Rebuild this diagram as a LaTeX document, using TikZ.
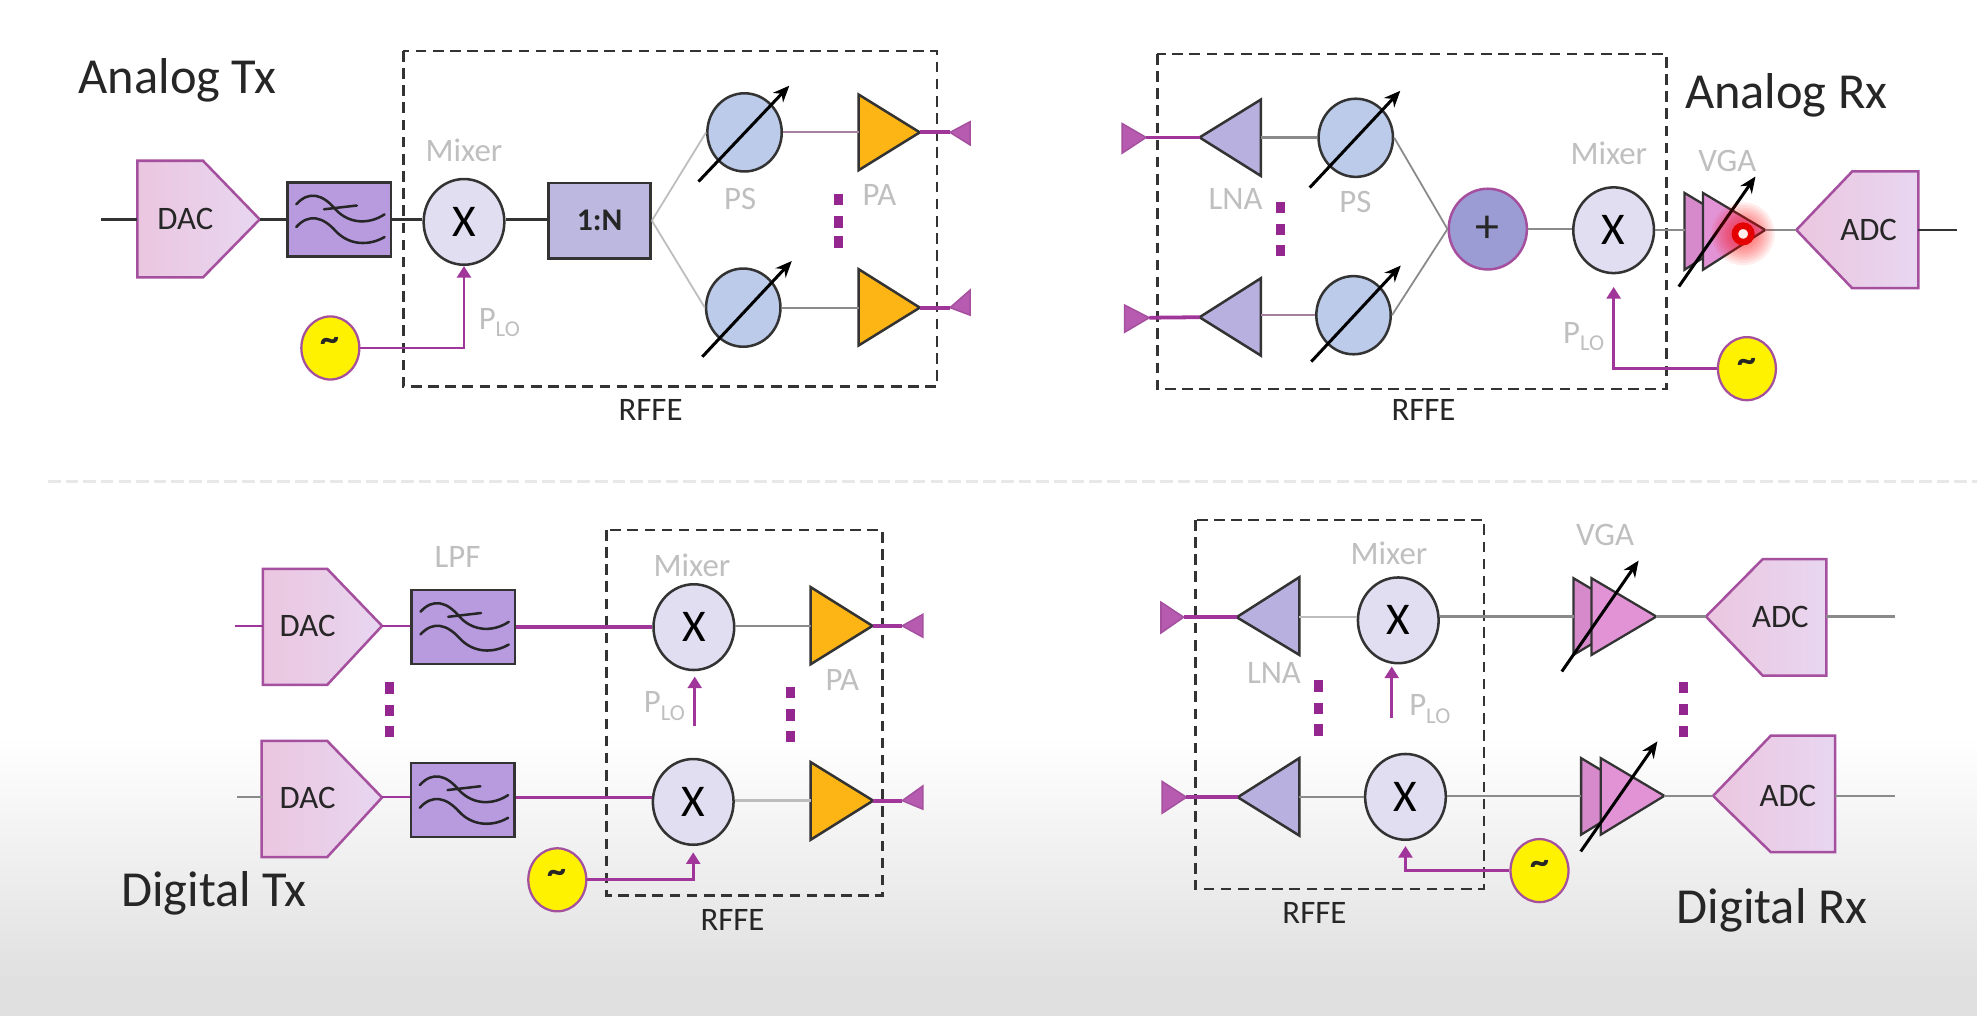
\documentclass[tikz,border=0pt]{standalone}
\usepackage{fontspec}
\setmainfont{Carlito}
\usetikzlibrary{shapes.geometric,arrows.meta}
\definecolor{pline}{HTML}{A0359A}
\definecolor{dline}{HTML}{333333}
\definecolor{gline}{HTML}{8A8A8A}
\definecolor{lline}{HTML}{BDBDBD}
\definecolor{rline}{HTML}{A57FA0}
\definecolor{lab}{HTML}{BFBFBF}
\definecolor{txt}{HTML}{262626}
\definecolor{edge}{HTML}{A5509F}
\definecolor{dacL}{HTML}{EBC6E0}
\definecolor{dacR}{HTML}{E8D6F0}
\definecolor{lpfF}{HTML}{B89ADF}
\definecolor{mixF}{HTML}{E0DEF0}
\definecolor{psF}{HTML}{BCCBEA}
\definecolor{lnaF}{HTML}{B8B0DF}
\definecolor{paF}{HTML}{FDB515}
\definecolor{vgaF}{HTML}{E293D6}
\definecolor{vgaB}{HTML}{D68ACB}
\definecolor{antF}{HTML}{B75BB0}
\definecolor{dotF}{HTML}{93278F}
\definecolor{addF}{HTML}{9C9CD4}
\definecolor{splitF}{HTML}{BDB8E0}
\tikzset{
  x=0.5pt,y=-0.5pt,
  title/.style={font=\fontsize{20}{21}\selectfont,text=txt,inner sep=0pt},
  glabel/.style={font=\fontsize{13}{14}\selectfont,text=lab,inner sep=0pt},
  blabel/.style={font=\fontsize{13}{14}\selectfont,text=txt,inner sep=0pt},
  mixnode/.style={ellipse,draw=dline,line width=1pt,fill=mixF,minimum width=32pt,minimum height=34pt,inner sep=0pt,font=\fontsize{18}{19}\selectfont,text=black},
  psnode/.style={ellipse,draw=dline,line width=1pt,fill=psF,minimum width=29.5pt,minimum height=31pt,inner sep=0pt},
  addnode/.style={ellipse,draw=edge,line width=1pt,fill=addF,minimum width=31pt,minimum height=32pt,inner sep=0pt,font=\fontsize{19}{20}\selectfont,text=txt},
  oscnode/.style={ellipse,draw=edge,line width=0.9pt,fill=yellow,minimum width=23pt,minimum height=25pt,inner sep=0pt,font=\fontsize{15}{16}\selectfont\bfseries,text=txt},
  lpfnode/.style={rectangle,draw=dline,line width=1pt,fill=lpfF,minimum width=41pt,minimum height=29.3pt,inner sep=0pt},
  splitnode/.style={rectangle,draw=dline,line width=1pt,fill=splitF,minimum width=40.5pt,minimum height=30pt,inner sep=0pt,font=\fontsize{12.5}{13}\selectfont\bfseries,text=txt},
  rfbox/.style={draw=dline,line width=0.95pt,dash pattern=on 4.2pt off 2.6pt},
  wdark/.style={draw=dline,line width=1pt},
  wpurp/.style={draw=pline,line width=1.5pt},
  wthin/.style={draw=pline,line width=0.8pt},
  wgray/.style={draw=gline,line width=0.9pt},
  wlight/.style={draw=lline,line width=0.7pt},
  wrose/.style={draw=rline,line width=0.8pt},
  lowire/.style={draw=pline,line width=1.1pt,-{Triangle[length=4.6pt,width=5.5pt]}},
  tune/.style={draw=black,line width=1.2pt,-{Stealth[length=6.5pt,width=5.5pt]}},
  pafill/.style={draw=dline,line width=1pt,fill=paF,line join=miter},
  lnafill/.style={draw=dline,line width=1pt,fill=lnaF},
  vgafill/.style={draw=dline,line width=0.9pt,fill=vgaF},
  vgaback/.style={draw=dline,line width=0.9pt,fill=vgaB},
  antfill/.style={draw=edge,line width=0.6pt,fill=antF},
  dotfill/.style={rectangle,fill=dotF,minimum width=3.5pt,minimum height=4.5pt,inner sep=0pt},
  lpfwave/.style={draw=black!85,line width=1pt,line cap=round},
}
% triangle: name, base x, tip x, top y, bottom y, mid y, style
\newcommand{\trishape}[7]{%
  \path[#7] (#2,#4) -- (#3,#6) -- (#2,#5) -- cycle;
  \coordinate (#1base) at (#2,#6);
  \coordinate (#1tip) at (#3,#6);}
% converter: name, flat x, corner x, tip x, top y, bottom y, mid y, text, text x
\newcommand{\conv}[9]{%
  \path[draw=edge,line width=1pt,left color=dacL,right color=dacR] (#2,#5) -- (#3,#5) -- (#4,#7) -- (#3,#6) -- (#2,#6) -- cycle;
  \coordinate (#1flat) at (#2,#7);
  \coordinate (#1tip) at (#4,#7);
  \node[blabel] (#1) at (#9,#7) {#8};}
% low-pass filter box: name, x, y
\newcommand{\lpfbox}[3]{%
  \node[lpfnode] (#1) at (#2,#3) {};
  \begin{scope}[shift={(#2,#3)}]
    \path[lpfwave] (-34,-12) .. controls (-24,-23) and (-13,-20) .. (-3,-8) .. controls (8,4) and (24,4) .. (36,-4);
    \path[lpfwave] (-34,6) .. controls (-24,-5) and (-13,-2) .. (-3,9) .. controls (8,21) and (24,21) .. (36,14);
    \path[lpfwave] (-12,-8) -- (14,-11);
  \end{scope}}
% three dots: name, x, y1, y2, y3
\newcommand{\vdotsq}[5]{%
  \node[dotfill] (#1a) at (#2,#3) {};
  \node[dotfill] (#1b) at (#2,#4) {};
  \node[dotfill] (#1c) at (#2,#5) {};}
\newcommand{\plo}{P\raisebox{-3pt}{\fontsize{9}{9}\selectfont LO}}
\newcommand{\osc}{\raisebox{2.5pt}{\textasciitilde}}
\begin{document}
\begin{tikzpicture}
\useasboundingbox (0,0) rectangle (1568,805.8);
% background
\fill[white] (0,0) rectangle (1568,805.8);
\shade[top color=white,bottom color=black!12] (0,585) rectangle (1568,775);
\fill[black!12] (0,775) rectangle (1568,805.8);
\coordinate (sepL) at (38,382);
\coordinate (sepR) at (1568,382);
\draw[black!9,line width=1pt,dash pattern=on 5pt off 2pt] (sepL) -- (sepR);

%% ---------- Analog Tx ----------
\node[title,anchor=west] (tATx) at (62,63.5) {Analog Tx};
\draw[rfbox] (320,40.5) rectangle (743,306.6);
\node[blabel] (rfATx) at (516,325) {RFFE};
\coordinate (iATx) at (80,174);
\conv{dacA}{109}{161}{206}{127.5}{220}{174}{DAC}{147}
\lpfbox{lpfA}{269}{174}
\node[mixnode] (mixA) at (368,176) {X};
\node[splitnode] (splitA) at (475.5,175) {1:N};
\node[psnode] (psA1) at (590.5,105) {};
\node[psnode] (psA2) at (589.5,244) {};
\trishape{paA1}{681}{729.5}{75}{135}{105}{pafill}
\trishape{paA2}{681}{729.5}{213.5}{274}{244}{pafill}
\trishape{antA1}{769.5}{753.5}{96.5}{115}{105}{antfill}
\trishape{antA2}{769.5}{753.5}{230}{250}{244}{antfill}
\node[oscnode] (oscA) at (262,276) {\osc};
\draw[wdark] (iATx) -- (dacAflat);
\draw[wdark] (dacAtip) -- (lpfA.west);
\draw[wdark] (lpfA.east) -- (mixA.west |- lpfA.east);
\draw[wdark,line width=1.4pt] (mixA.east |- lpfA.east) -- (splitA.west |- lpfA.east);
\draw[wlight] (splitA.east) -- (psA1.west);
\draw[wlight] (splitA.east) -- (psA2.west);
\draw[wrose] (psA1.east) -- (paA1base);
\draw[wgray] (psA2.east) -- (paA2base);
\draw[wpurp] (paA1tip) -- (antA1tip);
\draw[wpurp] (paA2tip) -- (antA2tip);
\draw[lowire] (oscA.east) -| (mixA.south);
\coordinate (tA1s) at (554,144); \coordinate (tA1e) at (626,68);
\coordinate (tA2s) at (557,283); \coordinate (tA2e) at (628,207);
\draw[tune] (tA1s) -- (tA1e);
\draw[tune] (tA2s) -- (tA2e);
\vdotsq{dA}{665}{158}{176}{192}
\node[glabel] (mA) at (368,119.5) {Mixer};
\node[glabel] (psAl) at (587,158) {PS};
\node[glabel] (paAl) at (697.5,155) {PA};
\node[glabel] (ploA) at (396,256) {\plo};

%% ---------- Analog Rx ----------
\node[title,anchor=west] (tARx) at (1336,76) {Analog Rx};
\draw[rfbox] (918,42.8) rectangle (1321.8,308.7);
\node[blabel] (rfARx) at (1129,325) {RFFE};
\trishape{antB1}{890}{909}{98}{121.5}{109}{antfill}
\trishape{antB2}{892}{911.5}{242}{263.5}{252}{antfill}
\trishape{lnaB1}{1000}{951.4}{79}{139.5}{109}{lnafill}
\trishape{lnaB2}{1000}{951.4}{220.7}{282}{251.6}{lnafill}
\node[psnode] (psB1) at (1075.3,109.3) {};
\node[psnode] (psB2) at (1073.5,250) {};
\node[addnode] (addB) at (1180,181.7) {+};
\node[mixnode] (mixB) at (1279.8,182.6) {X};
\trishape{vgaB0}{1336}{1385}{153}{214}{182.4}{vgaback}
\trishape{vgaB1}{1350.6}{1400}{153}{214}{182.4}{vgafill}
\conv{adcB}{1521.4}{1469}{1424.7}{136}{228.6}{182.4}{ADC}{1482}
\node[oscnode] (oscB) at (1385.5,292.4) {\osc};
\coordinate (oB) at (1552,182.4);
\draw[wpurp] (antB1tip) -- (lnaB1tip);
\draw[wpurp] (antB2tip) -- (lnaB2tip);
\draw[wgray] (lnaB1base) -- (psB1.west |- lnaB1base);
\draw[wrose] (lnaB2base |- psB2.west) -- (psB2.west);
\draw[wgray,line width=0.7pt] (psB1.east) -- (addB.west);
\draw[wgray,line width=0.7pt] (psB2.east) -- (addB.west);
\draw[wgray] (addB.east) -- (mixB.west |- addB.east);
\draw[wgray] (mixB.east |- vgaB0base) -- (vgaB0base);
\draw[wgray] (vgaB1tip) -- (adcBtip);
\draw[wdark,line width=0.7pt] (adcBflat) -- (oB);
\draw[lowire,shorten >=5pt] (oscB.west) -| (mixB.south);
\coordinate (tB1s) at (1038.8,148.8); \coordinate (tB1e) at (1110.6,72);
\coordinate (tB2s) at (1040,286.8); \coordinate (tB2e) at (1111,210.6);
\coordinate (tB3s) at (1331.5,227.3); \coordinate (tB3e) at (1392.3,140);
\draw[tune] (tB1s) -- (tB1e);
\draw[tune] (tB2s) -- (tB2e);
\draw[tune] (tB3s) -- (tB3e);
\vdotsq{dB}{1015.7}{164.4}{181.8}{198.7}
\node[glabel] (lnaBl) at (980,158) {LNA};
\node[glabel] (psBl) at (1075,160) {PS};
\node[glabel] (mB) at (1276,122) {Mixer};
\node[glabel] (vgaBl) at (1370,127.7) {VGA};
\node[glabel] (ploB) at (1256,267) {\plo};
% laser pointer
\foreach \r in {25,23,21,19,17,15,13,11}{\fill[red,opacity=0.07] (1382.5,185.5) circle[radius=\r];}
\draw[red!90!black,line width=2.6pt,fill=white!70!pink] (1382.5,185.5) circle[radius=6.5];

%% ---------- Digital Tx ----------
\node[title,anchor=west] (tDTx) at (95.8,708.5) {Digital Tx};
\draw[rfbox] (481,420.3) rectangle (700,710.2);
\node[blabel] (rfDTx) at (581,730) {RFFE};
\coordinate (iC1) at (186,496.4);
\coordinate (iC2) at (188,632.5);
\conv{dacC1}{208.4}{259.5}{303}{451.2}{543.2}{496.4}{DAC}{244}
\conv{dacC2}{207.5}{259.5}{303}{587.6}{679.8}{632.5}{DAC}{244}
\lpfbox{lpfC1}{367.5}{497.2}
\lpfbox{lpfC2}{367}{634.6}
\node[mixnode] (mixC1) at (550.3,497.4) {X};
\node[mixnode] (mixC2) at (549.8,636) {X};
\trishape{paC1}{643}{692}{465.7}{526.8}{496.4}{pafill}
\trishape{paC2}{643}{692.5}{604.5}{666}{635}{pafill}
\trishape{antC1}{732}{715.6}{487.2}{505.4}{496.4}{antfill}
\trishape{antC2}{732}{715.6}{623.3}{641.8}{635}{antfill}
\node[oscnode] (oscC) at (442,697.8) {\osc};
\draw[wthin] (iC1) -- (dacC1flat);
\draw[wthin,draw=gline] (iC2) -- (dacC2flat);
\draw[wthin] (dacC1tip) -- (lpfC1.west |- dacC1tip);
\draw[wthin] (dacC2tip) -- (lpfC2.west |- dacC2tip);
\draw[wpurp] (lpfC1.east |- mixC1.west) -- (mixC1.west);
\draw[wpurp] (lpfC2.east |- dacC2tip) -- (mixC2.west |- dacC2tip);
\draw[wgray] (mixC1.east |- paC1base) -- (paC1base);
\draw[wgray,draw=lline,line width=1pt] (mixC2.east |- paC2base) -- (paC2base);
\draw[wpurp] (paC1tip) -- (antC1tip);
\draw[wpurp] (paC2tip) -- (antC2tip);
\draw[lowire,shorten >=2.5pt] (oscC.east) -| (mixC2.south);
\coordinate (ploCs) at (551,576.2);
\coordinate (ploCe) at (551,536.6);
\draw[lowire] (ploCs) -- (ploCe);
\vdotsq{dC1}{309}{545.8}{563.5}{580.2}
\vdotsq{dC2}{627}{549.3}{567}{584}
\node[glabel] (lpfCl) at (362.8,442) {LPF};
\node[glabel] (mC) at (548.8,448) {Mixer};
\node[glabel] (paCl) at (668,539) {PA};
\node[glabel] (ploC) at (527,560) {\plo};

%% ---------- Digital Rx ----------
\node[title,anchor=west] (tDRx) at (1329.5,722) {Digital Rx};
\draw[rfbox] (948.3,412.4) rectangle (1177,705.2);
\node[blabel] (rfDRx) at (1042.5,724.2) {RFFE};
\trishape{antD1}{920.8}{938.8}{477.6}{502}{489.5}{antfill}
\trishape{antD2}{921.7}{941}{619.8}{645}{632.3}{antfill}
\trishape{lnaD1}{1030.5}{980.8}{457.8}{519.4}{489.5}{lnafill}
\trishape{lnaD2}{1030.5}{981.7}{601.3}{662.7}{632.3}{lnafill}
\node[mixnode] (mixD1) at (1109,492) {X};
\node[mixnode] (mixD2) at (1114.7,632) {X};
\trishape{vgaD10}{1248}{1299}{458.6}{519.4}{489}{vgaback}
\trishape{vgaD11}{1262.3}{1313.7}{458.6}{519.4}{489}{vgafill}
\trishape{vgaD20}{1254}{1304}{601.3}{662}{631.2}{vgaback}
\trishape{vgaD21}{1269.6}{1320}{601.3}{662}{631.2}{vgafill}
\conv{adcD1}{1448.6}{1398}{1353}{443.5}{535.8}{489}{ADC}{1412}
\conv{adcD2}{1455.5}{1404.5}{1358.7}{583.4}{675.9}{631.2}{ADC}{1418}
\node[oscnode] (oscD) at (1221,690.5) {\osc};
\coordinate (oD1) at (1503,489);
\coordinate (oD2) at (1503,631.2);
\draw[wpurp] (antD1tip) -- (lnaD1tip);
\draw[wpurp] (antD2tip) -- (lnaD2tip);
\draw[wlight,line width=1pt] (lnaD1base) -- (mixD1.west |- lnaD1base);
\draw[wgray] (lnaD2base) -- (mixD2.west |- lnaD2base);
\draw[wgray] (mixD1.east |- vgaD10base) -- (vgaD10base);
\draw[wgray] (mixD2.east |- vgaD20base) -- (vgaD20base);
\draw[wgray] (vgaD11tip) -- (adcD1tip);
\draw[wgray] (vgaD21tip) -- (adcD2tip);
\draw[wgray] (adcD1flat) -- (oD1);
\draw[wgray] (adcD2flat) -- (oD2);
\draw[lowire,shorten >=2pt] (oscD.west) -| (mixD2.south);
\coordinate (ploDs) at (1103.8,569.6);
\coordinate (ploDe) at (1103.8,528.6);
\draw[lowire] (ploDs) -- (ploDe);
\coordinate (tD1s) at (1238.7,532.6); \coordinate (tD1e) at (1299.6,444.6);
\coordinate (tD2s) at (1253.7,675.3); \coordinate (tD2e) at (1314.5,588);
\draw[tune] (tD1s) -- (tD1e);
\draw[tune] (tD2s) -- (tD2e);
\vdotsq{dD1}{1046}{544}{561.7}{579}
\vdotsq{dD2}{1335.5}{545.3}{562.5}{580.2}
\node[glabel] (vgaDl) at (1273,424.3) {VGA};
\node[glabel] (mD) at (1101.6,438.8) {Mixer};
\node[glabel] (lnaDl) at (1010.4,534) {LNA};
\node[glabel] (ploD) at (1134,562.5) {\plo};
\end{tikzpicture}
\end{document}
